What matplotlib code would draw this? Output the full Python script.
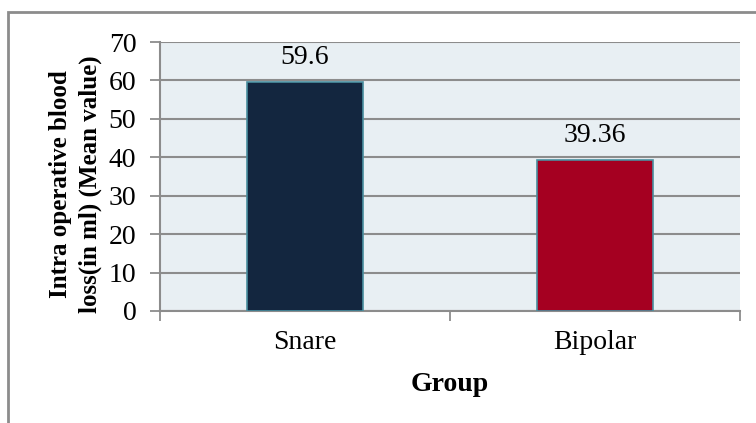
import matplotlib.pyplot as plt
from matplotlib.patches import Rectangle

groups = ['Snare', 'Bipolar']
blood_loss = [59.6, 39.36]
value_labels = ['59.6', '39.36']
bar_colors = ['#13263F', '#A50021']

plt.rcParams['font.family'] = ['Liberation Serif', 'DejaVu Serif']

W, H = 756, 423
fig = plt.figure(figsize=(W / 100, H / 100), dpi=100)

# outer chart frame (cropped by the page at right and bottom)
fig.patches.append(Rectangle((8 / W, -0.1), 2.0, (1 - 12 / H) + 0.1,
                             transform=fig.transFigure, fill=False,
                             edgecolor='#8c8c8c', linewidth=2, zorder=0))

ax = fig.add_axes([160 / W, 1 - 311 / H, (740 - 160) / W, (311 - 42) / H])
ax.set_facecolor('#E8EFF3')

x = list(range(len(groups)))
ax.bar(x, blood_loss, width=0.4, color=bar_colors, edgecolor='#4A8FA0',
       linewidth=1.2, zorder=3)
for xi, v, lab in zip(x, blood_loss, value_labels):
    ax.text(xi, v + 6.4, lab, ha='center', va='center', fontsize=20, zorder=4)

ax.set_xlim(-0.5, 1.5)
ax.set_ylim(0, 70)
ax.set_yticks(range(0, 71, 10))
ax.yaxis.grid(True, color='#8c8c8c', linewidth=1.5, zorder=1)
ax.set_axisbelow(True)

ax.set_xticks([-0.5, 0.5, 1.5])
ax.set_xticklabels([])
ax.set_xticks(x, minor=True)
ax.set_xticklabels(groups, minor=True, fontsize=20)
ax.tick_params(axis='x', which='minor', length=0, pad=14)
ax.tick_params(axis='x', which='major', length=7, width=1.3, color='#8c8c8c')
ax.tick_params(axis='y', length=7, width=1.3, color='#8c8c8c', labelsize=20, pad=10)

for s in ['top', 'right']:
    ax.spines[s].set_visible(False)
for s in ['left', 'bottom']:
    ax.spines[s].set_color('#8c8c8c')
    ax.spines[s].set_linewidth(1.5)

ax.set_xlabel('Group', fontsize=20, fontweight='bold', labelpad=12)
ax.set_ylabel('Intra operative blood\nloss(in ml) (Mean value)', fontsize=18,
              fontweight='bold', linespacing=1.35)
ax.yaxis.set_label_coords(-0.1, 0.47)

fig.savefig('out.png', dpi=100)
